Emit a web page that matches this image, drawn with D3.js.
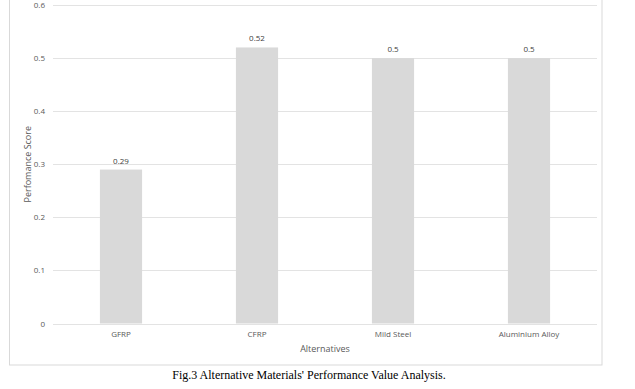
<!DOCTYPE html>
<html>
<head>
<meta charset="utf-8">
<script src="https://cdn.jsdelivr.net/npm/d3@7"></script>
<style>
  body { margin: 0; background: #fff; }
  svg { display: block; }
</style>
</head>
<body>
<div id="chart"></div>
<script>
var categories = ['GFRP', 'CFRP', 'Mild Steel', 'Aluminium Alloy'];
var scores = [0.29, 0.52, 0.5, 0.5];
var yTicks = [0, 0.1, 0.2, 0.3, 0.4, 0.5, 0.6];

const W = 635, H = 389;
const plot = { left: 53, right: 597, top: 5, bottom: 323.5 };
const AXIS_FONT = '"Open Sans", "Liberation Sans", sans-serif';

var svg = d3.select('#chart').append('svg')
  .attr('width', W)
  .attr('height', H);

// outer chart frame (top edge is cut off in the original)
svg.append('rect')
  .attr('x', 9.5).attr('y', -10)
  .attr('width', 592.5).attr('height', 375)
  .attr('fill', '#fff')
  .attr('stroke', '#d9d9d9');

var x = d3.scaleBand()
  .domain(categories)
  .range([plot.left, plot.right])
  .paddingInner(0.69)
  .paddingOuter(0.345);

var y = d3.scaleLinear()
  .domain([0, 0.6])
  .range([plot.bottom, plot.top]);

// gridlines
svg.append('g')
  .selectAll('line')
  .data(yTicks)
  .enter()
  .append('line')
  .attr('x1', plot.left)
  .attr('x2', plot.right)
  .attr('y1', (d) => Math.round(y(d)) + 0.5)
  .attr('y2', (d) => Math.round(y(d)) + 0.5)
  .attr('stroke', '#e3e3e3')
  .attr('stroke-width', 1);

// bars
svg.append('g')
  .selectAll('rect')
  .data(scores)
  .enter()
  .append('rect')
  .attr('x', (d, i) => x(categories[i]))
  .attr('y', (d) => y(d))
  .attr('width', x.bandwidth())
  .attr('height', (d) => y(0) - y(d))
  .attr('fill', '#d9d9d9');

// value labels
svg.append('g')
  .selectAll('text')
  .data(scores)
  .enter()
  .append('text')
  .attr('x', (d, i) => x(categories[i]) + x.bandwidth() / 2)
  .attr('y', (d) => y(d) - 6)
  .attr('text-anchor', 'middle')
  .attr('font-family', AXIS_FONT)
  .attr('font-size', 8)
  .attr('fill', '#404040')
  .text((d) => d);

// y axis (no domain line, no ticks)
var yAxis = svg.append('g')
  .attr('transform', `translate(${plot.left},0)`)
  .call(d3.axisLeft(y).tickValues(yTicks).tickSize(0).tickPadding(8).tickFormat((d) => d));
yAxis.select('.domain').remove();
yAxis.selectAll('text')
  .attr('font-family', AXIS_FONT)
  .attr('font-size', 8)
  .attr('fill', '#595959');

// x axis
var xAxis = svg.append('g')
  .attr('transform', `translate(0,${plot.bottom})`)
  .call(d3.axisBottom(x).tickSize(0).tickPadding(8));
xAxis.select('.domain').remove();
xAxis.selectAll('text')
  .attr('font-family', AXIS_FONT)
  .attr('font-size', 8)
  .attr('fill', '#595959');

// axis titles
svg.append('text')
  .attr('x', (plot.left + plot.right) / 2)
  .attr('y', 352)
  .attr('text-anchor', 'middle')
  .attr('font-family', AXIS_FONT)
  .attr('font-size', 9)
  .attr('fill', '#595959')
  .text('Alternatives');

svg.append('text')
  .attr('transform', `translate(31,${(plot.top + plot.bottom) / 2}) rotate(-90)`)
  .attr('text-anchor', 'middle')
  .attr('font-family', AXIS_FONT)
  .attr('font-size', 9)
  .attr('fill', '#595959')
  .text('Perfomance Score');

// figure caption
svg.append('text')
  .attr('x', 309)
  .attr('y', 379)
  .attr('text-anchor', 'middle')
  .attr('font-family', '"Liberation Serif", "Times New Roman", serif')
  .attr('font-size', 12)
  .attr('fill', '#000')
  .text("Fig.3 Alternative Materials' Performance Value Analysis.");
</script>
</body>
</html>
